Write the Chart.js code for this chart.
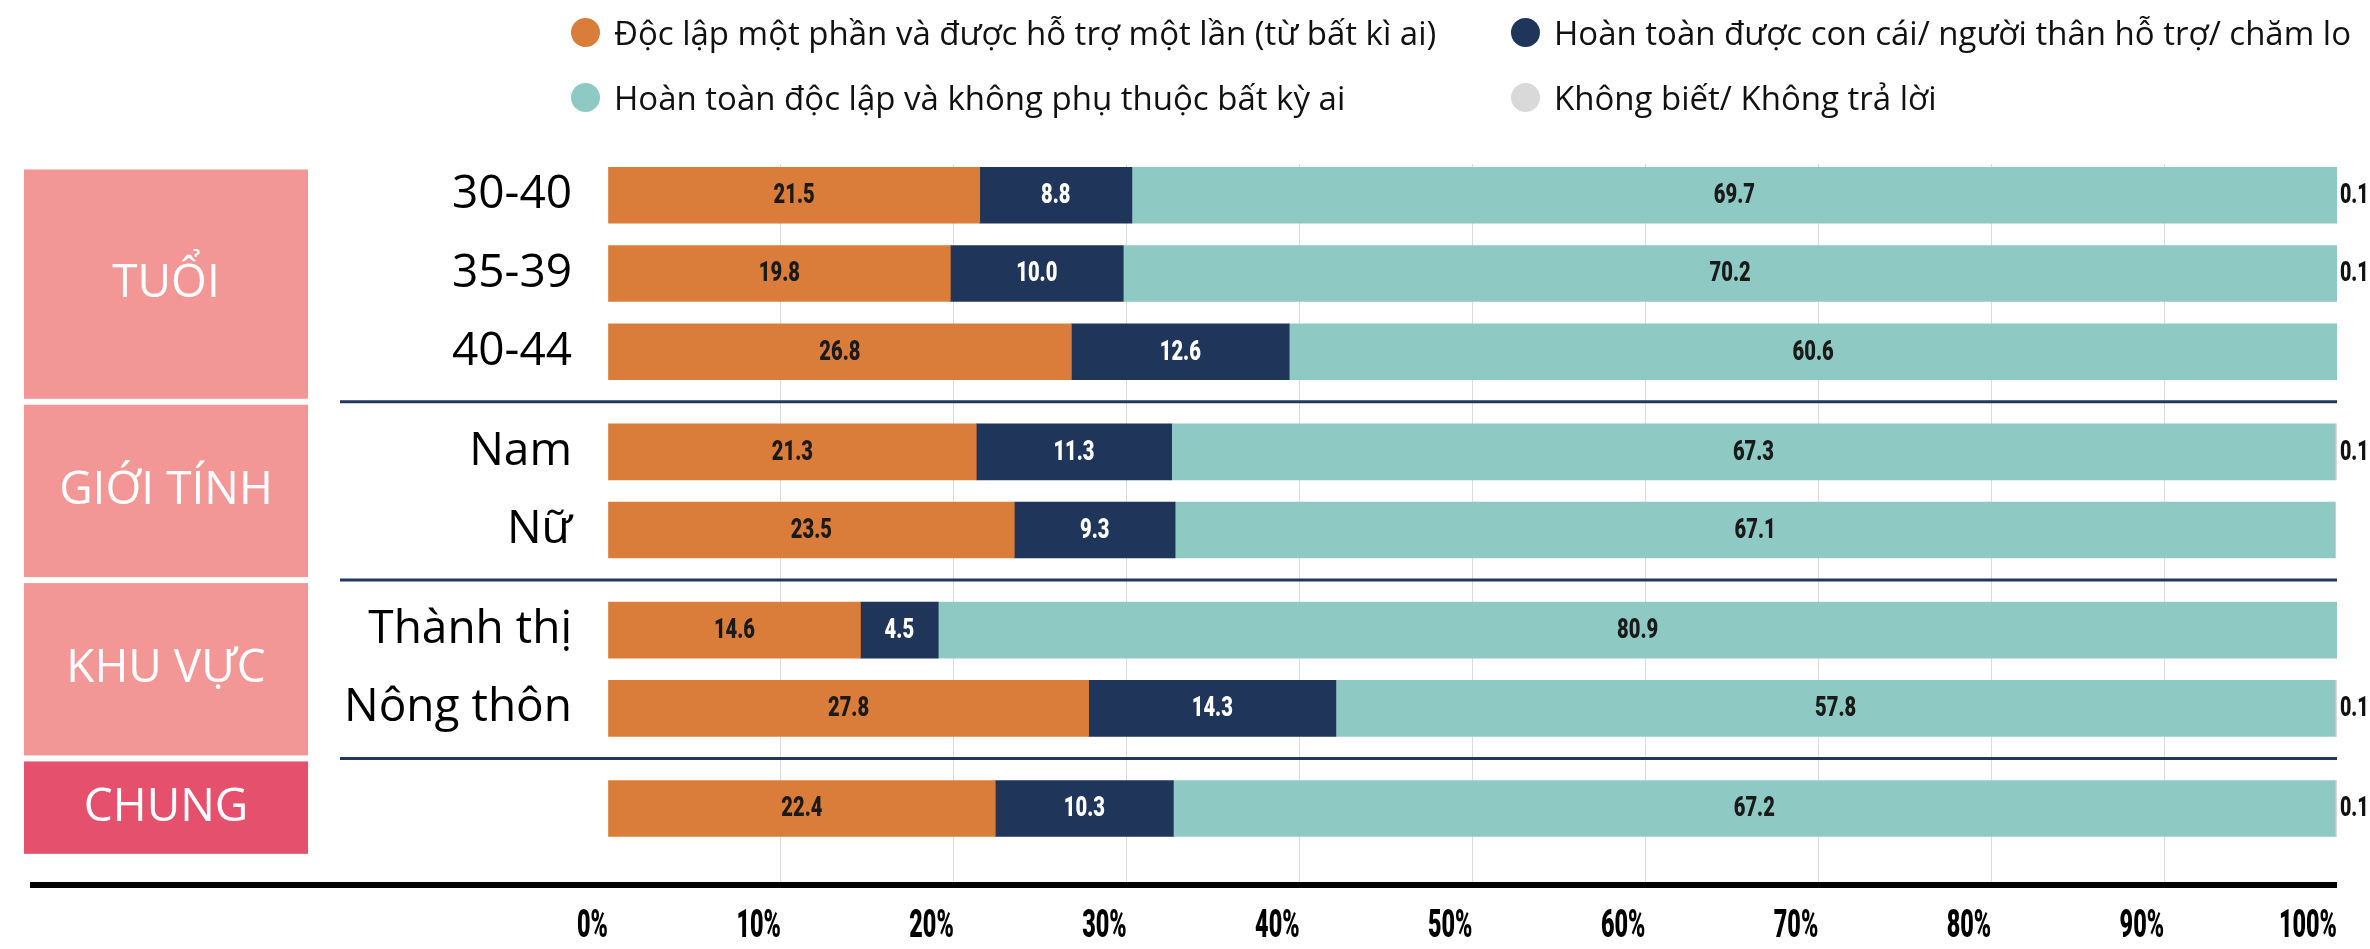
<!DOCTYPE html>
<html>
<head>
<meta charset="utf-8">
<title>Mức độ độc lập</title>
<script src="https://cdn.jsdelivr.net/npm/chart.js@4.4.1/dist/chart.umd.min.js"></script>
<style>
  body { margin: 0; background: #fff; }
  #wrap { position: relative; width: 2370px; height: 949px; }
  #legend {
    position: absolute; left: 571px; top: 0;
    display: grid; grid-template-columns: 940px auto;
    font-family: 'Open Sans', sans-serif; font-size: 33px; color: #111;
  }
  #legend .item { height: 65px; display: flex; align-items: center; white-space: nowrap; }
  #legend .dot { width: 29px; height: 29px; border-radius: 50%; margin-right: 14px; flex: none; }
</style>
</head>
<body>
<div id="wrap">
  <canvas id="chart"></canvas>
  <div id="legend"></div>
</div>
<script>
// rows top to bottom, grouped
const rowLabels = ['30-40', '35-39', '40-44', 'Nam', 'Nữ', 'Thành thị', 'Nông thôn', ''];
const groupNames = ['TUỔI', 'GIỚI TÍNH', 'KHU VỰC', 'CHUNG'];
const groupSizes = [3, 2, 2, 1];

const seriesNames = [
  'Độc lập một phần và được hỗ trợ một lần (từ bất kì ai)',
  'Hoàn toàn được con cái/ người thân hỗ trợ/ chăm lo',
  'Hoàn toàn độc lập và không phụ thuộc bất kỳ ai',
  'Không biết/ Không trả lời'
];
const partlyIndependent = [21.5, 19.8, 26.8, 21.3, 23.5, 14.6, 27.8, 22.4];
const fullySupported    = [8.8, 10.0, 12.6, 11.3, 9.3, 4.5, 14.3, 10.3];
const fullyIndependent  = [69.7, 70.2, 60.6, 67.3, 67.1, 80.9, 57.8, 67.2];
const noAnswer          = [0.1, 0.1, 0, 0.1, 0, 0, 0.1, 0.1];

const percentTicks = [0, 10, 20, 30, 40, 50, 60, 70, 80, 90, 100];

// y positions of the rows: one unit per row, a little extra space between groups
const GROUP_GAP = 0.28;
const rowPos = [];
let p = 0;
groupSizes.forEach(n => {
  for (let i = 0; i < n; i++) { rowPos.push(p); p += 1; }
  p += GROUP_GAP;
});
const lastPos = rowPos[rowPos.length - 1];

const NUM_FONT = "Roboto, 'Liberation Sans', sans-serif";

function toPoints(values) {
  return values.map((v, i) => ({ x: v, y: rowPos[i] }));
}

// numbers are drawn squeezed horizontally to get a condensed look
function narrowText(ctx, text, x, y, align, sx) {
  ctx.save();
  ctx.translate(x, y);
  ctx.scale(sx, 1);
  ctx.textAlign = align;
  ctx.fillText(text, 0, 0);
  ctx.restore();
}

const datasets = [
  { label: seriesNames[0], data: toPoints(partlyIndependent), backgroundColor: '#DA7C3A', labelColor: '#1a1a1a' },
  { label: seriesNames[1], data: toPoints(fullySupported), backgroundColor: '#1F3559', labelColor: '#ffffff' },
  { label: seriesNames[2], data: toPoints(fullyIndependent), backgroundColor: '#8FC9C4', labelColor: '#1a1a1a' },
  { label: seriesNames[3], data: toPoints(noAnswer), backgroundColor: '#D9D9D9', labelColor: '#111111', outside: true }
];

// pink group boxes on the left, navy separators between groups, base line and % ticks
const groupPlugin = {
  id: 'groupBoxes',
  beforeDraw(chart) {
    const ctx = chart.ctx;
    const ys = chart.scales.y;
    const pix = v => ys.getPixelForValue(v);
    let start = 0;
    ctx.save();
    groupSizes.forEach((n, g) => {
      const end = start + n - 1;
      const top = g === 0 ? pix(rowPos[0] - 0.33) : (pix(rowPos[start - 1]) + pix(rowPos[start])) / 2 + 3;
      const bottom = g === groupSizes.length - 1 ? pix(lastPos + 0.58) : (pix(rowPos[end]) + pix(rowPos[end + 1])) / 2 - 3;
      ctx.fillStyle = g === groupSizes.length - 1 ? '#E5506C' : '#F29696';
      ctx.fillRect(24, top, 284, bottom - top);
      ctx.fillStyle = '#fff';
      ctx.font = "46px 'Open Sans', sans-serif";
      ctx.textAlign = 'center';
      ctx.textBaseline = 'middle';
      ctx.fillText(groupNames[g], 166, (top + bottom) / 2);
      start += n;
    });
    ctx.restore();
  },
  beforeDatasetsDraw(chart) {
    const ctx = chart.ctx;
    const ys = chart.scales.y;
    let start = 0;
    ctx.save();
    ctx.strokeStyle = '#22365F';
    ctx.lineWidth = 3;
    groupSizes.forEach((n, g) => {
      if (g > 0) {
        const y = (ys.getPixelForValue(rowPos[start - 1]) + ys.getPixelForValue(rowPos[start])) / 2;
        ctx.beginPath();
        ctx.moveTo(340, y);
        ctx.lineTo(chart.chartArea.right, y);
        ctx.stroke();
      }
      start += n;
    });
    ctx.restore();
  },
  afterDraw(chart) {
    const ctx = chart.ctx;
    const area = chart.chartArea;
    const xs = chart.scales.x;
    ctx.save();
    // heavy black base line under the bars
    ctx.fillStyle = '#000';
    ctx.fillRect(30, area.bottom, area.right - 30, 6);
    // percent labels, right edge on the grid line
    ctx.font = '900 39px ' + NUM_FONT;
    ctx.textBaseline = 'middle';
    percentTicks.forEach(v => {
      narrowText(ctx, v + '%', xs.getPixelForValue(v), area.bottom + 45, 'right', 0.6);
    });
    ctx.restore();
  }
};

// value labels in the middle of each segment, the tiny grey one goes outside
const valueLabels = {
  id: 'valueLabels',
  afterDatasetsDraw(chart) {
    const ctx = chart.ctx;
    ctx.save();
    ctx.font = '900 28px ' + NUM_FONT;
    ctx.textBaseline = 'middle';
    chart.data.datasets.forEach((ds, i) => {
      const meta = chart.getDatasetMeta(i);
      meta.data.forEach((bar, j) => {
        const v = ds.data[j].x;
        if (!v) return;
        const { x, y, base } = bar.getProps(['x', 'y', 'base'], true);
        ctx.fillStyle = ds.labelColor;
        if (ds.outside) {
          narrowText(ctx, v.toFixed(1), chart.chartArea.right + 3, y + 1, 'left', 0.7);
        } else {
          narrowText(ctx, v.toFixed(1), (x + base) / 2, y + 1, 'center', 0.72);
        }
      });
    });
    ctx.restore();
  }
};

const chart = new Chart(document.getElementById('chart'), {
  type: 'bar',
  data: { datasets: datasets },
  plugins: [groupPlugin, valueLabels],
  options: {
    indexAxis: 'y',
    responsive: true,
    maintainAspectRatio: false,
    animation: false,
    barThickness: 56,
    layout: { padding: { top: 164, right: 33, left: 0, bottom: 0 } },
    plugins: {
      legend: { display: false },
      tooltip: { enabled: false }
    },
    scales: {
      x: {
        type: 'linear',
        stacked: true,
        min: 0,
        max: 100,
        afterBuildTicks: s => { s.ticks = percentTicks.map(v => ({ value: v })); },
        afterFit: s => { s.height = 67; },
        border: { display: false },
        grid: {
          drawTicks: false,
          color: c => (c.tick && (c.tick.value === 0 || c.tick.value === 100)) ? 'rgba(0,0,0,0)' : '#DCDCDC',
          lineWidth: 1
        },
        ticks: { display: false }
      },
      y: {
        type: 'linear',
        stacked: true,
        reverse: true,
        offset: false,
        min: -0.4,
        max: lastPos + 0.94,
        afterBuildTicks: s => { s.ticks = rowPos.map(v => ({ value: v })); },
        afterFit: s => { s.width = 608; },
        border: { display: false },
        grid: { display: false },
        ticks: {
          padding: 28,
          color: '#000',
          font: { family: "'Open Sans', sans-serif", size: 46 },
          callback: (v, i) => rowLabels[i]
        }
      }
    }
  }
});

// legend in two columns
const legendEl = document.getElementById('legend');
chart.data.datasets.forEach(ds => {
  const item = document.createElement('div');
  item.className = 'item';
  const dot = document.createElement('span');
  dot.className = 'dot';
  dot.style.background = ds.backgroundColor;
  item.appendChild(dot);
  item.appendChild(document.createTextNode(ds.label));
  legendEl.appendChild(item);
});
</script>
</body>
</html>
